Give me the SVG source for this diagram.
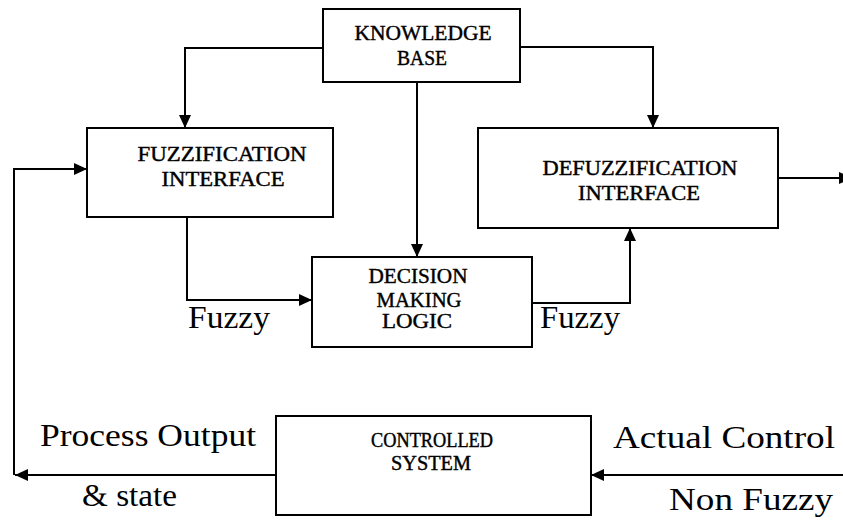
<svg xmlns="http://www.w3.org/2000/svg" width="843" height="520" viewBox="0 0 843 520">
<style>
.box{fill:#fff;stroke:#000;stroke-width:2}
.ln{fill:none;stroke:#000;stroke-width:2}
.bt{font-family:"Liberation Serif",serif;font-size:20px;text-anchor:middle;fill:#000;stroke:#000;stroke-width:0.4}
.lb{font-family:"Liberation Serif",serif;font-size:32px;fill:#000}
</style>
<defs>
<marker id="ah" markerUnits="userSpaceOnUse" markerWidth="14" markerHeight="12" refX="13" refY="6" orient="auto">
<path d="M0,0 L13,6 L0,12 z" fill="#000"/>
</marker>
</defs>
<rect width="843" height="520" fill="#fff"/>
<g id="connectors">
<path class="ln" d="M323,48 H185 V128" marker-end="url(#ah)"/>
<path class="ln" d="M520,47 H653 V128" marker-end="url(#ah)"/>
<path class="ln" d="M417,82 V257" marker-end="url(#ah)"/>
<path class="ln" d="M187,217 V300 H312" marker-end="url(#ah)"/>
<path class="ln" d="M532,303 H630 V228" marker-end="url(#ah)"/>
<path class="ln" d="M778,178 H852" marker-end="url(#ah)"/>
<path class="ln" d="M843,475 H591" marker-end="url(#ah)"/>
<path class="ln" d="M276,475 H15" marker-end="url(#ah)"/>
<path class="ln" d="M14,475 V169 H87" marker-end="url(#ah)"/>
</g>
<g id="knowledge-base">
<rect class="box" x="323" y="9" width="197" height="73"/>
<text class="bt" x="423" y="40" textLength="137" lengthAdjust="spacingAndGlyphs">KNOWLEDGE</text>
<text class="bt" x="422" y="65" textLength="50" lengthAdjust="spacingAndGlyphs">BASE</text>
</g>
<g id="fuzzification">
<rect class="box" x="87" y="128" width="246" height="89"/>
<text class="bt" x="222" y="161" textLength="169" lengthAdjust="spacingAndGlyphs">FUZZIFICATION</text>
<text class="bt" x="223" y="186" textLength="123" lengthAdjust="spacingAndGlyphs">INTERFACE</text>
</g>
<g id="defuzzification">
<rect class="box" x="478" y="128" width="300" height="100"/>
<text class="bt" x="640" y="175" textLength="195" lengthAdjust="spacingAndGlyphs">DEFUZZIFICATION</text>
<text class="bt" x="639" y="200" textLength="122" lengthAdjust="spacingAndGlyphs">INTERFACE</text>
</g>
<g id="decision">
<rect class="box" x="312" y="257" width="220" height="90"/>
<text class="bt" x="418" y="283" textLength="99" lengthAdjust="spacingAndGlyphs">DECISION</text>
<text class="bt" x="419" y="307" textLength="85" lengthAdjust="spacingAndGlyphs">MAKING</text>
<text class="bt" x="417" y="328" textLength="70" lengthAdjust="spacingAndGlyphs">LOGIC</text>
</g>
<g id="controlled-system">
<rect class="box" x="276" y="416" width="315" height="99"/>
<text class="bt" x="432" y="447" textLength="122" lengthAdjust="spacingAndGlyphs">CONTROLLED</text>
<text class="bt" x="431" y="470" textLength="80" lengthAdjust="spacingAndGlyphs">SYSTEM</text>
</g>
<g id="labels">
<text class="lb" x="188" y="328" textLength="82" lengthAdjust="spacingAndGlyphs">Fuzzy</text>
<text class="lb" x="540" y="328" textLength="80" lengthAdjust="spacingAndGlyphs">Fuzzy</text>
<text class="lb" x="40" y="446" textLength="216" lengthAdjust="spacingAndGlyphs">Process Output</text>
<text class="lb" x="82" y="506" textLength="95" lengthAdjust="spacingAndGlyphs">&amp; state</text>
<text class="lb" x="613" y="448" textLength="222" lengthAdjust="spacingAndGlyphs">Actual Control</text>
<text class="lb" x="669" y="510" textLength="164" lengthAdjust="spacingAndGlyphs">Non Fuzzy</text>
</g>
</svg>
